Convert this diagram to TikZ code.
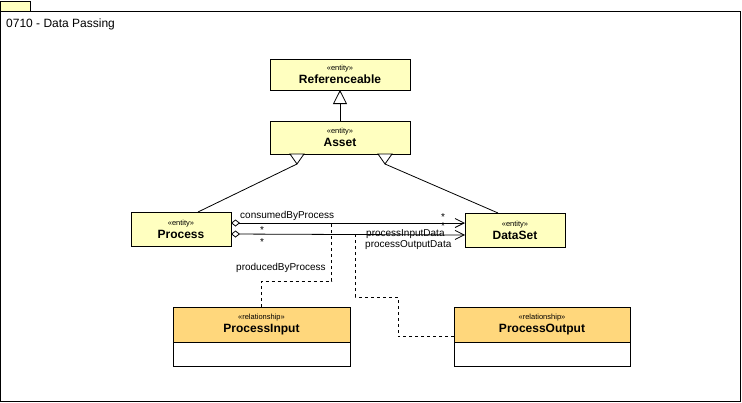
\documentclass[tikz,border=0pt]{standalone}
\usepackage{fontspec}
\setmainfont{Liberation Sans}
\usetikzlibrary{arrows.meta,positioning,calc}
\definecolor{entityfill}{HTML}{FFFFC0}
\definecolor{relfill}{HTML}{FFD77C}

\newcommand{\stereo}[1]{{\mdseries\fontsize{7.5}{9}\selectfont «#1»}}

\begin{document}
\begin{tikzpicture}[x=1pt,y=-1pt,
    entity/.style={draw,line width=0.9pt,fill=entityfill,outer sep=0pt,
      minimum width=140pt,minimum height=32pt,inner sep=0pt,align=center,
      font=\bfseries\fontsize{12}{13}\selectfont},
    relhead/.style={entity,fill=relfill,minimum width=177pt,minimum height=35pt},
    relbody/.style={draw,line width=0.9pt,fill=white,outer sep=0pt,
      minimum width=177pt,minimum height=24pt,inner sep=0pt},
    gen/.style={line width=0.8pt},
    assoc/.style={line width=0.8pt,
      {Diamond[open,length=9pt,width=7pt]}-{Straight Barb[length=9pt,width=9pt]}},
    dep/.style={line width=0.8pt,dash pattern=on 3pt off 3pt},
    lbl/.style={inner sep=0pt,font=\fontsize{10}{12}\selectfont}]
  \useasboundingbox (0,0) rectangle (742,402);
  % package frame
  \draw[line width=0.8pt,fill=entityfill] (0.5,1.5) rectangle (30.5,11);
  \draw[line width=0.8pt] (0.5,11) rectangle (740.5,401);
  \node[anchor=base west,inner sep=0pt,font=\fontsize{12}{14}\selectfont] (title)
    at (6,27) {0710 - Data Passing};

  % classes
  \node[entity,minimum height=31pt] (ref) at (340,74.5) {\stereo{entity}\\Referenceable};
  \node[entity,below=31pt of ref,minimum height=33pt] (asset) {\stereo{entity}\\Asset};
  \node[entity,minimum width=100pt,minimum height=34pt] (proc) at (181,229)
    {\stereo{entity}\\Process};
  \node[entity,minimum width=100pt,minimum height=34pt] (data) at (515,230)
    {\stereo{entity}\\DataSet};
  \node[relhead] (pinh) at (261.5,324.5) {\stereo{relationship}\\ProcessInput};
  \node[relbody,below=0pt of pinh] (pinb) {};
  \node[relhead,minimum width=176pt] (pouth) at (542,324.5)
    {\stereo{relationship}\\ProcessOutput};
  \node[relbody,minimum width=176pt,below=0pt of pouth] (poutb) {};

  % generalizations
  \draw[gen,-{Triangle[open,length=14pt,width=14pt]}] (asset) -- (ref);
  \coordinate (genl) at ($(asset.south)+(-43,10)$);
  \coordinate (genr) at ($(asset.south)+(45,10)$);
  \draw[gen] ($(proc.north)+(17,0)$) -- (genl);
  \draw[gen] ($(data.north)+(-17,0)$) -- (genr);
  \draw[gen,fill=white] (genl) -- ++(-7,-10) -- ++(14,0) -- cycle;
  \draw[gen,fill=white] (genr) -- ++(-7,-10) -- ++(14,0) -- cycle;

  % associations
  \draw[assoc] ($(proc.east)+(0,-6)$) -- coordinate[pos=0.43] (use1)
    ($(data.west)+(0,-7)$);
  \draw[assoc] ($(proc.east)+(0,5)$) -- coordinate[pos=0.532] (use2)
    ($(data.west)+(0,5)$);
  \node[lbl,anchor=base west] (cbp) at (240,218.5) {consumedByProcess};
  \node[lbl,anchor=base] (m1) at (262,233.5) {*};
  \node[lbl,anchor=base] (m2) at (262,245) {*};
  \node[lbl,anchor=base] (m3) at (443,220.5) {*};
  \node[lbl,anchor=base] (m4) at (443,229.5) {*};
  \node[lbl,anchor=base west] (pid) at (366,236.5) {processInputData};
  \node[lbl,anchor=base west] (pod) at (365,247) {processOutputData};
  \node[lbl,anchor=base west] (pbp) at (236,270.5) {producedByProcess};

  % association classes
  \coordinate (pout) at ($(pouth.north west)!0.5!(poutb.south west)$);
  \draw[dep] (pinh.north) -- ++(0,-26) -| (use1);
  \draw[dep] (pout) -- ++(-56,0) -- ++(0,-39.5) -| (use2);
\end{tikzpicture}
\end{document}
